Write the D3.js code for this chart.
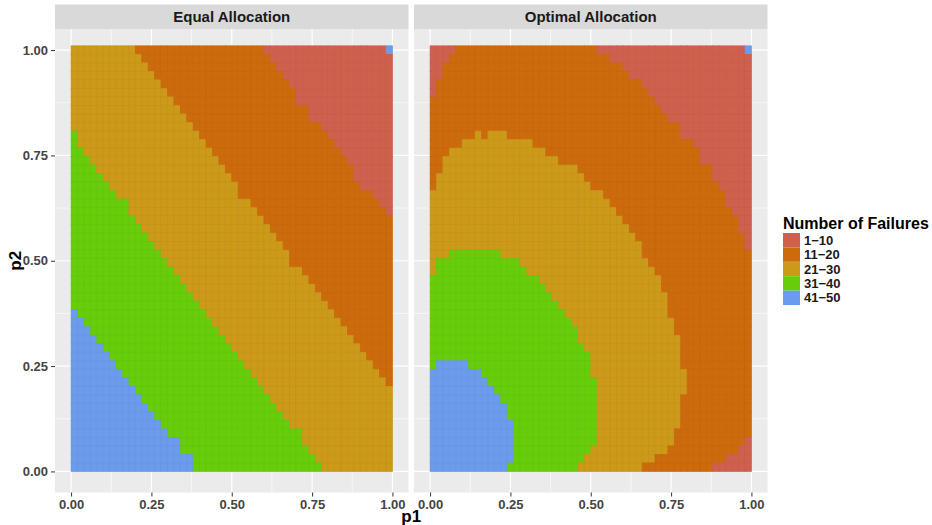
<!DOCTYPE html>
<html>
<head>
<meta charset="utf-8">
<script src="https://cdn.jsdelivr.net/npm/d3@7"></script>
<style>
  body { margin: 0; background: #fff; }
  svg { font-family: "Liberation Sans", Arial, sans-serif; }
</style>
</head>
<body>
<svg id="chart" width="932" height="525"></svg>
<script>
const categories = ["1\u221210", "11\u221220", "21\u221230", "31\u221240", "41\u221250"];
const categoryColors = ["#D0604E", "#CD6A0C", "#CC9919", "#67CD0A", "#6A9BED"];
const panelTitles = ["Equal Allocation", "Optimal Allocation"];
const tickValues = [0, 0.25, 0.5, 0.75, 1];
const minorTicks = [0.125, 0.375, 0.625, 0.875];
const gridSize = 50;

// one string per row, top row (p2 = 1) first; "category:count" runs from p1 = 0 to 1
const equalRows = [
  "2:10 1:20 0:19 4:1", "2:11 1:20 0:19", "2:12 1:20 0:18", "2:13 1:20 0:17", "2:14 1:20 0:16",
  "2:15 1:20 0:15", "2:16 1:19 0:15", "2:17 1:20 0:13", "2:18 1:19 0:13", "2:19 1:20 0:11",
  "3:1 2:19 1:20 0:10", "3:1 2:20 1:20 0:9", "3:2 2:20 1:20 0:8", "3:3 2:20 1:20 0:7", "3:4 2:20 1:20 0:6",
  "3:5 2:20 1:19 0:6", "3:6 2:20 1:19 0:5", "3:7 2:19 1:21 0:3", "3:9 2:19 1:20 0:2", "3:9 2:20 1:20 0:1",
  "3:10 2:20 1:20", "3:11 2:20 1:19", "3:12 2:20 1:18", "3:13 2:20 1:17", "3:14 2:20 1:16",
  "3:15 2:19 1:16", "3:16 2:20 1:14", "3:17 2:20 1:13", "3:18 2:20 1:12", "3:19 2:20 1:11",
  "3:20 2:20 1:10", "4:1 3:20 2:20 1:9", "4:2 3:20 2:20 1:8", "4:3 3:20 2:20 1:7", "4:4 3:20 2:20 1:6",
  "4:5 3:20 2:20 1:5", "4:6 3:20 2:20 1:4", "4:7 3:20 2:20 1:3", "4:8 3:20 2:20 1:2", "4:9 3:20 2:20 1:1",
  "4:10 3:20 2:20", "4:11 3:20 2:19", "4:12 3:20 2:18", "4:13 3:20 2:17", "4:14 3:20 2:16",
  "4:15 3:21 2:14", "4:17 3:19 2:14", "4:17 3:20 2:13", "4:19 3:19 2:12", "4:19 3:20 2:11"
];

const optimalRows = [
  "0:4 1:22 0:23 4:1", "0:3 1:25 0:22", "0:2 1:28 0:20", "0:2 1:29 0:19", "0:1 1:32 0:17",
  "0:1 1:33 0:16", "1:35 0:15", "1:36 0:14", "1:37 0:13", "1:39 0:11",
  "1:7 2:1 1:1 2:3 1:27 0:11", "1:5 2:11 1:25 0:9", "1:3 2:15 1:24 0:8", "1:2 2:18 1:22 0:8", "1:2 2:21 1:21 0:6",
  "1:1 2:23 1:20 0:6", "1:1 2:24 1:20 0:5", "2:27 1:19 0:4", "2:28 1:18 0:4", "2:29 1:18 0:3",
  "2:30 1:18 0:2", "2:31 1:17 0:2", "2:32 1:17 0:1", "2:33 1:16 0:1", "2:3 3:8 2:22 1:17",
  "2:1 3:13 2:20 1:16", "2:1 3:14 2:20 1:15", "3:17 2:19 1:14", "3:18 2:18 1:14", "3:19 2:18 1:13",
  "3:20 2:17 1:13", "3:21 2:16 1:13", "3:22 2:16 1:12", "3:23 2:15 1:12", "3:23 2:16 1:11",
  "3:24 2:15 1:11", "3:25 2:14 1:11", "3:1 4:5 3:19 2:14 1:11", "4:8 3:17 2:15 1:10", "4:9 3:17 2:14 1:10",
  "4:10 3:16 2:14 1:10", "4:11 3:15 2:13 1:11", "4:12 3:14 2:13 1:11", "4:12 3:14 2:13 1:11", "4:13 3:13 2:13 1:11",
  "4:13 3:13 2:12 1:12", "4:13 3:13 2:12 1:11 0:1", "4:13 3:12 2:12 1:11 0:2", "4:13 3:11 2:11 1:11 0:4", "4:12 3:11 2:10 1:11 0:6"
];

const panelRows = [equalRows, optimalRows];

const svg = d3.select("#chart");
const panelLeft = [55, 414], panelWidth = 353.5;
const panelTop = 29, panelBottom = 492.5;
const xStep = 1 / gridSize, yStep = 1.01 / gridSize; // tiles overshoot p2 = 1 slightly in the original

const yScale = d3.scaleLinear().domain([-0.05, 1.05]).range([panelBottom, panelTop]);
const color = d3.scaleOrdinal().domain(d3.range(categories.length)).range(categoryColors);

function rowsToCells(rows) {
  const cells = [];
  rows.forEach((row, r) => {
    let k = 0;
    row.split(" ").forEach(run => {
      const [c, n] = run.split(":").map(Number);
      for (let i = 0; i < n; i++, k++) {
        cells.push({ p1: k * xStep, p2: (gridSize - 1 - r) * yStep, cat: c });
      }
    });
    if (k !== gridSize) console.warn("row", r, "has", k, "cells");
  });
  return cells;
}

panelTitles.forEach((title, i) => {
  const x0 = panelLeft[i];
  const xScale = d3.scaleLinear().domain([-0.05, 1.05]).range([x0, x0 + panelWidth]);
  const g = svg.append("g");

  // strip
  g.append("rect").attr("x", x0).attr("y", 4.5).attr("width", panelWidth).attr("height", panelTop - 4.5)
    .attr("fill", "#D9D9D9");
  g.append("text").attr("x", x0 + panelWidth / 2).attr("y", 22).attr("text-anchor", "middle")
    .attr("font-size", 15).attr("font-weight", "bold").attr("fill", "#1A1A1A").text(title);

  // panel background + grid
  g.append("rect").attr("x", x0).attr("y", panelTop).attr("width", panelWidth).attr("height", panelBottom - panelTop)
    .attr("fill", "#EBEBEB");
  [[minorTicks, 0.6], [tickValues, 1.2]].forEach(([vals, w]) => {
    g.selectAll(null).data(vals).enter().append("line")
      .attr("x1", d => xScale(d)).attr("x2", d => xScale(d))
      .attr("y1", panelTop).attr("y2", panelBottom)
      .attr("stroke", "#fff").attr("stroke-width", w);
    g.selectAll(null).data(vals).enter().append("line")
      .attr("x1", x0).attr("x2", x0 + panelWidth)
      .attr("y1", d => yScale(d)).attr("y2", d => yScale(d))
      .attr("stroke", "#fff").attr("stroke-width", w);
  });

  // tiles
  g.selectAll(".tile").data(rowsToCells(panelRows[i])).enter().append("rect")
    .attr("class", "tile")
    .attr("x", d => xScale(d.p1))
    .attr("y", d => yScale(d.p2 + yStep))
    .attr("width", d => xScale(d.p1 + xStep) - xScale(d.p1))
    .attr("height", d => yScale(d.p2) - yScale(d.p2 + yStep))
    .attr("fill", d => color(d.cat))
    .attr("stroke", d => d3.color(color(d.cat)).darker(0.12))
    .attr("stroke-width", 0.7);

  // x axis
  const xAxis = g.append("g").attr("transform", `translate(0,${panelBottom})`)
    .call(d3.axisBottom(xScale).tickValues(tickValues).tickFormat(d3.format(".2f")).tickSize(4).tickPadding(3));
  xAxis.select(".domain").remove();
  xAxis.selectAll("line").attr("stroke", "#333");
  xAxis.selectAll("text").attr("font-size", 13).attr("font-weight", "bold").attr("fill", "#444")
    .attr("font-family", "Liberation Sans, Arial, sans-serif");

  if (i === 0) {
    const yAxis = g.append("g").attr("transform", `translate(${x0},0)`)
      .call(d3.axisLeft(yScale).tickValues(tickValues).tickFormat(d3.format(".2f")).tickSize(4).tickPadding(3));
    yAxis.select(".domain").remove();
    yAxis.selectAll("line").attr("stroke", "#333");
    yAxis.selectAll("text").attr("font-size", 13).attr("font-weight", "bold").attr("fill", "#444")
      .attr("font-family", "Liberation Sans, Arial, sans-serif");
  }
});

// axis titles
svg.append("text").attr("x", (panelLeft[0] + panelLeft[1] + panelWidth) / 2).attr("y", 522)
  .attr("text-anchor", "middle").attr("font-size", 17).attr("font-weight", "bold").text("p1");
svg.append("text").attr("transform", `translate(21,${(panelTop + panelBottom) / 2}) rotate(-90)`)
  .attr("text-anchor", "middle").attr("font-size", 17).attr("font-weight", "bold").text("p2");

// legend
const legend = svg.append("g").attr("transform", "translate(783,229)");
legend.append("text").attr("x", 0).attr("y", 0).attr("font-size", 16).attr("font-weight", "bold")
  .text("Number of Failures");
const keyH = 14.4;
const keys = legend.selectAll(".key").data(categories).enter().append("g")
  .attr("transform", (d, i) => `translate(0,${4 + i * keyH})`);
keys.append("rect").attr("width", 17).attr("height", keyH).attr("fill", (d, i) => color(i));
keys.append("text").attr("x", 21).attr("y", keyH / 2 + 4.5).attr("font-size", 13)
  .attr("font-weight", "bold").attr("fill", "#1A1A1A").text(d => d);
</script>
</body>
</html>
